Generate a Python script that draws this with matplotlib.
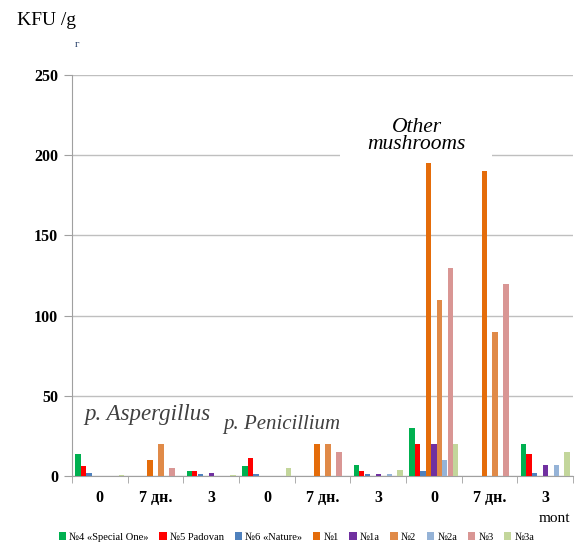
import matplotlib
matplotlib.use("Agg")
import matplotlib.pyplot as plt
from matplotlib.patches import Rectangle
import numpy as np

categories = ["0", "7 дн.", "3", "0", "7 дн.", "3", "0", "7 дн.", "3"]
series_names = ["№4 «Special One»", "№5 Padovan", "№6 «Nature»", "№1",
                "№1a", "№2", "№2a", "№3", "№3a"]
s_no4 = [14, 0, 3, 6, 0, 7, 30, 0, 20]
s_no5 = [6, 0, 3, 11, 0, 3, 20, 0, 14]
s_no6 = [2, 0, 1, 1, 0, 1, 3, 0, 2]
s_no1 = [0, 10, 0, 0, 20, 0, 195, 190, 0]
s_no1a = [0, 0, 2, 0, 0, 1, 20, 0, 7]
s_no2 = [0, 20, 0, 0, 20, 0, 110, 90, 0]
s_no2a = [0, 0, 0, 0, 0, 1, 10, 0, 7]
s_no3 = [0, 5, 0, 0, 15, 0, 130, 120, 0]
s_no3a = [0.7, 0, 0.7, 5, 0, 4, 20, 0, 15]
series = [s_no4, s_no5, s_no6, s_no1, s_no1a, s_no2, s_no2a, s_no3, s_no3a]
colors = ["#00B050", "#FF0000", "#4F81BD", "#E46C0A", "#7030A0",
          "#E08A48", "#95B3D7", "#D99694", "#C3D69B"]

serif = ["Liberation Serif", "DejaVu Serif"]
plt.rcParams["font.family"] = serif

fig = plt.figure(figsize=(5.76, 5.44), dpi=100)
ax = fig.add_axes([0.125, 0.125, 0.87, 0.737])

x = np.arange(len(categories))
step = 0.098
w = 0.094
handles = []
for k, (vals, c) in enumerate(zip(series, colors)):
    h = ax.bar(x + (k - 4) * step, vals, width=w, color=c, linewidth=0,
               zorder=3, label=series_names[k])
    handles.append(h)

ax.set_xlim(-0.5, len(categories) - 0.5)
ax.set_ylim(0, 250)
ax.set_yticks([0, 50, 100, 150, 200, 250])
ax.yaxis.grid(True, color="#BFBFBF", linewidth=1.0, zorder=0)
ax.set_axisbelow(True)
for s in ["top", "right"]:
    ax.spines[s].set_visible(False)
ax.spines["left"].set_color("#A0A0A0")
ax.spines["bottom"].set_color("#A0A0A0")
ax.tick_params(axis="y", length=6, color="#A0A0A0", pad=4, labelsize=11.5)
for t in ax.get_yticklabels():
    t.set_fontweight("bold")
ax.set_xticks(x)
ax.set_xticklabels(categories, fontsize=11.5, fontweight="bold")
ax.set_xticks(np.arange(-0.5, len(categories)), minor=True)
ax.tick_params(axis="x", which="major", length=0, pad=10)
ax.tick_params(axis="x", which="minor", length=5, color="#A0A0A0")

# white box behind "Other mushrooms" label (hides the 200 gridline there)
ax.add_patch(Rectangle((4.31, 190), 2.73, 45, facecolor="white",
                       edgecolor="none", zorder=2))

# annotations
ax.text(0.85, 38.5, "p. Aspergillus", fontsize=16.5, style="italic",
        color="#404040", ha="center", va="center", zorder=5)
ax.text(3.27, 32, "p. Penicillium", fontsize=15, style="italic",
        color="#404040", ha="center", va="center", zorder=5)
ax.text(5.69, 212, "Other\nmushrooms", fontsize=15.5, style="italic",
        color="#000000", ha="center", va="center", linespacing=0.9,
        zorder=5)

fig.text(0.03, 0.962, "KFU /g", fontsize=14, ha="left", va="center")
fig.text(0.13, 0.918, "г", fontsize=8, color="#1F3864", ha="left", va="center")
fig.text(0.99, 0.047, "mont", fontsize=11, ha="right", va="center")

fig.legend(handles=handles, labels=series_names, loc="center",
           bbox_to_anchor=(0.515, 0.013), ncol=9, frameon=False,
           fontsize=7.6, handlelength=0.7, handleheight=0.7,
           handletextpad=0.3, columnspacing=1.0, borderpad=0)

fig.savefig("out.png", dpi=100)
